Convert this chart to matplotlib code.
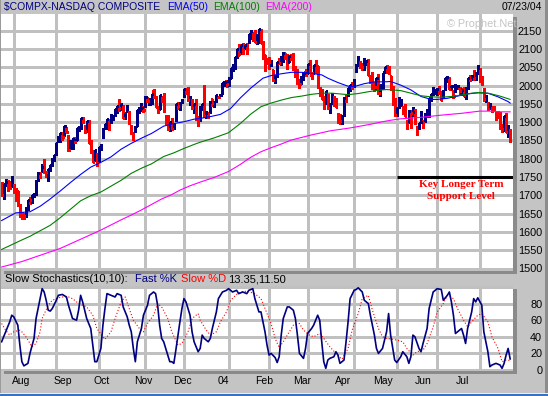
import numpy as np
import pandas as pd
import matplotlib
matplotlib.use("Agg")
import matplotlib.pyplot as plt
from matplotlib.patches import Rectangle

plt.rcParams['font.family'] = ['Liberation Sans', 'DejaVu Sans']

# ---------------- data ----------------
holidays = ['2003-09-01', '2003-11-27', '2003-12-25', '2004-01-01', '2004-01-19',
            '2004-02-16', '2004-04-09', '2004-05-31', '2004-06-11', '2004-07-05']
dates = pd.bdate_range('2003-07-24', '2004-07-23')
dates = dates[~dates.isin(pd.to_datetime(holidays))]

opens = [
    1725, 1700, 1731, 1737, 1733, 1730,
    1728, 1712, 1711, 1668, 1650, 1650, 1647, 1665, 1689, 1688, 1700, 1705, 1745, 1755, 1774, 1790, 1763, 1757, 1770, 1787, 1798,
    1815, 1854, 1851, 1858, 1865, 1880, 1862, 1830, 1838, 1856, 1852, 1880, 1885, 1912, 1889, 1876, 1903, 1845, 1815, 1800, 1812,
    1795, 1830, 1860, 1884, 1883, 1905, 1906, 1912, 1920, 1930, 1960, 1937, 1945, 1920, 1932, 1925, 1880, 1870, 1877, 1890, 1928, 1950, 1940,
    1943, 1966, 1950, 1962, 1986, 1968, 1938, 1937, 1964, 1972, 1915, 1915, 1885, 1890, 1885, 1905, 1953, 1950, 1955,
    1972, 1988, 1990, 1961, 1952, 1934, 1958, 1911, 1905, 1945, 1990, 1921, 1924, 1928, 1962, 1950, 1958, 1969, 1972, 1978, 2006, 2013,
    2011, 2021, 2044, 2051, 2090, 2084, 2092, 2114, 2105, 2090, 2122, 2150, 2144, 2150, 2134, 2120, 2150, 2120, 2082, 2068,
    2074, 2064, 2041, 2019, 2025, 2068, 2058, 2070, 2088, 2083, 2065, 2080, 2087, 2050, 2042, 1998, 2008, 2020, 2038,
    2035, 2060, 2030, 2035, 2040, 2052, 1991, 1984, 1952, 1956, 1974, 1947, 1953, 1967, 1960, 1918, 1920, 1899, 1920, 1960, 1975, 1990, 2004,
    2000, 2052, 2058, 2065, 2052, 2068, 2058, 2066, 2010, 2029, 2008, 1990, 2024, 1981, 1995, 2038, 2050, 2040, 2025, 1993, 1962,
    1925, 1945, 1952, 1940, 1935, 1900, 1901, 1930, 1922, 1925, 1885, 1884, 1910, 1895, 1905, 1927, 1920, 1962, 1980, 1983,
    1980, 1994, 1982, 1970, 1990, 2016, 2020, 1992, 1986, 1985, 1997, 1993, 1978, 1990, 1970, 1995, 2024, 2017, 2035, 2020, 2035,
    2045, 2020, 1990, 1960, 1948, 1940, 1940, 1940, 1915, 1925, 1925, 1885, 1882, 1923, 1868, 1878]
highs = [
    1737, 1732, 1745, 1742, 1738, 1753,
    1731, 1719, 1713, 1676, 1654, 1653, 1667, 1688, 1695, 1702, 1705, 1742, 1764, 1764, 1786, 1800, 1767, 1772, 1784, 1801, 1811,
    1842, 1863, 1869, 1873, 1889, 1886, 1865, 1850, 1856, 1860, 1884, 1890, 1912, 1913, 1893, 1902, 1905, 1852, 1823, 1825, 1815,
    1833, 1840, 1885, 1894, 1908, 1908, 1923, 1920, 1936, 1944, 1963, 1952, 1946, 1926, 1946, 1929, 1892, 1873, 1890, 1933, 1940, 1952, 1945,
    1970, 1969, 1965, 1977, 1990, 1972, 1943, 1975, 1972, 1979, 1920, 1920, 1901, 1911, 1896, 1950, 1956, 1955, 1962,
    1991, 1993, 1996, 1970, 1962, 1950, 1962, 1916, 1944, 1950, 2001, 1930, 1927, 1957, 1964, 1957, 1975, 1972, 1978, 2007, 2011, 2015,
    2022, 2048, 2058, 2078, 2101, 2113, 2112, 2117, 2112, 2115, 2141, 2153, 2146, 2152, 2140, 2154, 2155, 2122, 2084, 2075,
    2078, 2068, 2043, 2030, 2065, 2074, 2080, 2092, 2090, 2087, 2084, 2086, 2088, 2052, 2045, 2017, 2025, 2035, 2044,
    2058, 2069, 2037, 2056, 2071, 2054, 1995, 1990, 1970, 1986, 1976, 1952, 1980, 1970, 1965, 1925, 1923, 1920, 1968, 1975, 1994, 2001, 2009,
    2018, 2059, 2080, 2068, 2061, 2076, 2068, 2072, 2030, 2037, 2010, 2021, 2032, 2002, 2034, 2050, 2055, 2052, 2027, 2000, 1966,
    1940, 1968, 1962, 1945, 1950, 1906, 1932, 1933, 1940, 1936, 1890, 1898, 1930, 1905, 1925, 1936, 1965, 1978, 1995, 1990,
    1992, 1998, 1985, 1988, 2021, 2025, 2022, 2000, 1989, 2004, 2001, 1996, 1994, 1995, 1995, 2021, 2030, 2030, 2041, 2037, 2055,
    2048, 2025, 1992, 1975, 1955, 1953, 1944, 1945, 1930, 1930, 1927, 1896, 1918, 1926, 1893, 1881]
lows = [
    1699, 1690, 1726, 1712, 1716, 1722,
    1705, 1685, 1672, 1642, 1634, 1635, 1640, 1660, 1676, 1680, 1695, 1702, 1739, 1748, 1765, 1762, 1750, 1740, 1767, 1780, 1795,
    1810, 1845, 1846, 1852, 1863, 1872, 1820, 1826, 1827, 1844, 1850, 1877, 1880, 1897, 1869, 1873, 1843, 1815, 1790, 1795, 1780,
    1790, 1823, 1857, 1880, 1880, 1879, 1898, 1907, 1918, 1926, 1929, 1932, 1910, 1908, 1928, 1895, 1868, 1850, 1872, 1888, 1924, 1930, 1927,
    1940, 1955, 1946, 1950, 1967, 1940, 1925, 1935, 1955, 1927, 1895, 1879, 1875, 1880, 1880, 1903, 1937, 1933, 1952,
    1968, 1976, 1958, 1948, 1935, 1925, 1905, 1889, 1903, 1934, 1915, 1910, 1912, 1926, 1943, 1940, 1955, 1965, 1970, 1976, 2000, 1995,
    1999, 2020, 2040, 2045, 2075, 2083, 2086, 2086, 2101, 2085, 2116, 2128, 2122, 2118, 2113, 2116, 2115, 2073, 2040, 2060,
    2045, 2052, 2013, 2008, 2023, 2059, 2055, 2064, 2072, 2045, 2063, 2070, 2043, 2024, 2003, 1992, 2004, 2016, 2026,
    2033, 2038, 2017, 2033, 2035, 1994, 1970, 1962, 1935, 1950, 1937, 1925, 1950, 1945, 1940, 1898, 1895, 1896, 1918, 1955, 1972, 1986, 1990,
    1997, 2036, 2052, 2048, 2042, 2043, 2056, 2029, 2006, 1990, 1985, 1988, 1978, 1972, 1990, 2034, 2034, 2032, 1989, 1947, 1918,
    1918, 1938, 1944, 1922, 1916, 1880, 1899, 1885, 1918, 1895, 1865, 1880, 1897, 1885, 1900, 1915, 1914, 1958, 1974, 1978,
    1973, 1978, 1960, 1966, 1989, 2010, 1990, 1987, 1966, 1983, 1990, 1973, 1973, 1970, 1964, 1990, 2013, 2014, 2015, 2015, 2031,
    2010, 2002, 1958, 1955, 1934, 1936, 1928, 1930, 1907, 1911, 1882, 1874, 1876, 1873, 1858, 1845]
closes = [
    1702, 1731, 1735, 1731, 1721, 1735,
    1716, 1714, 1673, 1653, 1644, 1643, 1662, 1687, 1686, 1700, 1702, 1740, 1761, 1760, 1778, 1765, 1764, 1771, 1782, 1800, 1810,
    1842, 1853, 1869, 1858, 1889, 1873, 1824, 1846, 1855, 1846, 1883, 1887, 1910, 1906, 1875, 1902, 1844, 1818, 1792, 1825, 1787,
    1832, 1836, 1881, 1894, 1908, 1881, 1912, 1915, 1935, 1943, 1939, 1950, 1912, 1925, 1941, 1898, 1886, 1866, 1882, 1932, 1937, 1938, 1932,
    1968, 1958, 1959, 1976, 1971, 1942, 1931, 1973, 1967, 1930, 1910, 1882, 1900, 1882, 1894, 1949, 1943, 1953, 1960,
    1990, 1980, 1960, 1969, 1938, 1949, 1908, 1907, 1942, 1949, 1918, 1924, 1921, 1956, 1951, 1956, 1975, 1969, 1973, 2007, 2010, 2003,
    2007, 2047, 2057, 2078, 2100, 2087, 2112, 2097, 2111, 2109, 2140, 2148, 2143, 2119, 2124, 2154, 2116, 2078, 2068, 2066,
    2063, 2066, 2014, 2020, 2064, 2061, 2075, 2090, 2074, 2054, 2080, 2076, 2046, 2038, 2008, 2005, 2023, 2033, 2030,
    2058, 2040, 2033, 2055, 2048, 1995, 1982, 1964, 1944, 1985, 1939, 1943, 1977, 1962, 1941, 1910, 1902, 1910, 1967, 1960, 1993, 2001, 1994,
    2015, 2057, 2079, 2060, 2050, 2053, 2066, 2030, 2025, 2002, 1996, 2020, 1979, 2001, 2033, 2050, 2037, 2033, 1990, 1959, 1920,
    1939, 1951, 1957, 1938, 1918, 1896, 1931, 1926, 1927, 1904, 1877, 1898, 1899, 1897, 1912, 1923, 1965, 1976, 1985, 1987,
    1991, 1988, 1960, 1979, 2021, 2024, 1991, 2000, 1970, 1996, 1998, 1984, 1987, 1974, 1994, 2021, 2016, 2026, 2020, 2035, 2048,
    2016, 2007, 1963, 1966, 1935, 1946, 1937, 1932, 1915, 1913, 1883, 1882, 1917, 1874, 1889, 1849]

# moving averages (bar number, value)
ema50_bar = [0, 7, 14, 19, 24, 29, 34, 39, 44, 49, 54, 59, 64, 69, 74, 80, 85, 90, 95, 98, 103, 108, 113, 118,
             123, 129, 133, 138, 143, 148, 153, 158, 161, 166, 171, 174, 179, 184, 189, 192, 197, 202, 207,
             212, 215, 220, 225, 230, 235, 240, 245, 250, 251]
ema50_val = [1631, 1652, 1655, 1670, 1690, 1712, 1735, 1757, 1777, 1790, 1805, 1826, 1842, 1856, 1869, 1889,
             1896, 1901, 1908, 1910, 1915, 1921, 1937, 1967, 1993, 2020, 2027, 2032, 2036, 2036, 2033, 2029,
             2020, 2008, 1998, 1997, 2005, 2010, 2010, 2011, 2001, 1988, 1970, 1962, 1962, 1965, 1971, 1977,
             1980, 1979, 1969, 1956, 1952]
ema100_bar = [0, 10, 14, 19, 24, 29, 34, 39, 44, 49, 54, 59, 64, 69, 74, 80, 85, 90, 95, 98, 105, 112, 118,
              123, 128, 133, 138, 143, 148, 153, 158, 163, 167, 171, 176, 181, 186, 190, 197, 202, 207, 212,
              217, 222, 227, 232, 236, 241, 246, 251]
ema100_val = [1552, 1578, 1588, 1603, 1618, 1639, 1662, 1685, 1699, 1709, 1725, 1741, 1760, 1774, 1786, 1806,
              1816, 1828, 1839, 1845, 1857, 1871, 1897, 1922, 1942, 1952, 1960, 1967, 1971, 1976, 1979, 1979,
              1977, 1975, 1978, 1983, 1987, 1989, 1986, 1979, 1972, 1969, 1968, 1970, 1974, 1979, 1981, 1978,
              1971, 1962]
ema200_bar = [0, 10, 19, 29, 39, 49, 54, 59, 64, 69, 74, 79, 84, 88, 93, 98, 105, 112, 118, 123, 128, 133,
              138, 143, 148, 153, 158, 162, 167, 172, 177, 182, 187, 192, 197, 207, 217, 227, 236, 241, 246, 251]
ema200_val = [1504, 1519, 1536, 1555, 1580, 1605, 1619, 1633, 1646, 1660, 1675, 1690, 1702, 1714, 1726, 1736,
              1749, 1765, 1785, 1804, 1819, 1830, 1840, 1851, 1858, 1865, 1871, 1876, 1880, 1884, 1889, 1894,
              1900, 1905, 1909, 1913, 1919, 1924, 1930, 1930, 1928, 1928]

# slow stochastics (bar number, value)
k_bar = [0, 2, 4, 5, 6, 8, 9, 10, 11, 13, 14, 16, 17, 19, 20, 21, 22, 23, 24, 25, 27, 28, 30, 32, 33, 35, 37,
         38, 39, 40, 42, 44, 45, 46, 47, 49, 50, 51, 52, 54, 56, 57, 59, 60, 62, 63, 64, 65, 66, 67, 69, 70,
         72, 73, 75, 76, 77, 78, 79, 80, 81, 83, 84, 85, 86, 88, 89, 90, 91, 93, 94, 95, 97, 98, 99, 100, 102,
         103, 104, 106, 107, 109, 111, 112, 114, 116, 117, 119, 121, 122, 124, 125, 127, 128, 130, 131, 132,
         133, 135, 136, 137, 138, 139, 141, 142, 144, 145, 146, 147, 149, 150, 151, 153, 154, 156, 157, 158,
         159, 160, 161, 162, 164, 165, 166, 167, 169, 170, 171, 172, 174, 175, 176, 178, 179, 181, 182, 184,
         185, 186, 188, 190, 191, 192, 194, 195, 197, 198, 200, 201, 202, 203, 204, 206, 207, 208, 210, 211,
         213, 215, 217, 218, 220, 221, 222, 223, 224, 225, 227, 228, 229, 230, 232, 233, 234, 235, 237, 238,
         240, 241, 242, 244, 246, 247, 248, 249, 250, 251]
k_val = [34, 46, 58, 66, 64, 54, 30, 10, 5, 8, 20, 38, 62, 86, 98, 94, 84, 72, 71, 74, 84, 90, 91, 88, 78, 62, 60,
         72, 90, 82, 62, 50, 30, 10, 10, 26, 54, 74, 92, 90, 88, 92, 90, 76, 64, 54, 46, 26, 10, 34, 50, 66,
         78, 90, 94, 92, 78, 54, 38, 34, 26, 10, 10, 8, 24, 58, 74, 86, 82, 66, 46, 34, 22, 26, 42, 38, 34,
         38, 50, 70, 86, 94, 96, 98, 94, 96, 92, 94, 92, 96, 98, 86, 70, 70, 46, 30, 18,
         20, 15, 9, 16, 42, 62, 76, 76, 72, 62, 42, 20, 14, 26, 44, 50, 54, 66, 60, 34,
         10, 2, 12, 14, 16, 22, 18, 8, 12, 34, 58, 86, 96, 97, 99, 94, 84, 80, 66, 42,
         26, 20, 26, 46, 68, 42, 12, 9, 16, 22, 16, 8, 16, 42, 40, 26, 22, 32, 50, 74,
         94, 98, 97, 84, 90, 94, 82, 66, 44, 46, 50, 42, 32, 50, 70, 86, 82, 87, 78, 46,
         22, 4, 6, 8, 6, 2, 8, 18, 26, 13.35]
d_bar = [0, 2, 4, 6, 9, 10, 12, 14, 15, 17, 19, 20, 23, 25, 28, 30, 33, 35, 37, 40, 42, 45, 47, 50, 51, 54,
         56, 59, 61, 63, 65, 68, 70, 72, 75, 77, 79, 82, 84, 87, 89, 92, 94, 97, 98, 101, 103, 106, 108, 111,
         113, 116, 118, 121, 125, 128, 130, 133, 135, 137, 139, 142, 144, 147, 149, 152, 154, 157, 159, 162,
         165, 168, 171, 173, 176, 178, 181, 183, 186, 188, 190, 193, 195, 198, 200, 203, 205, 208, 210, 213,
         215, 218, 220, 223, 225, 228, 230, 232, 235, 237, 240, 242, 245, 247, 249, 251]
d_val = [56, 48, 42, 46, 48, 46, 40, 32, 28, 32, 46, 62, 78, 84, 87, 88, 88, 86, 82, 78, 76, 66, 50, 40, 37, 46,
         62, 82, 88, 74, 60, 50, 46, 56, 66, 80, 76, 62, 46, 30, 32, 46, 62, 68, 60, 48, 42, 46, 58, 70,
         84, 91, 94, 95, 92, 86, 74, 56, 38, 27, 34, 46, 54, 56, 48, 42, 40, 44, 38, 28,
         20, 13, 26, 48, 68, 86, 90, 72, 50, 40, 38, 37, 36, 34, 26, 18, 22, 24, 32, 52,
         70, 80, 90, 86, 74, 60, 52, 58, 66, 68, 58, 40, 26, 10, 12, 11.5]

price_ticks = list(range(1500, 2151, 50))
stoch_ticks = [0, 20, 40, 60, 80, 100]
stoch_tick_labels = ['0', '20', '40', '60', '80', '']
month_labels = ['Aug', 'Sep', 'Oct', 'Nov', 'Dec', '04', 'Feb', 'Mar', 'Apr', 'May', 'Jun', 'Jul']
support_level = 1750
support_from = '2004-05-03'
last_k, last_d = 13.35, 11.50

# ---------------- figure ----------------
W, H = 548, 396
BG = '#c4c4c4'
SHADOW = '#8a8a8a'
GRID = '#c0c0c0'
NAVY = '#000080'

fig = plt.figure(figsize=(W / 100, H / 100), dpi=100, facecolor=BG)


def px_axes(l, t, r, b):
    return fig.add_axes([l / W, 1 - b / H, (r - l) / W, (b - t) / H])


def px_rect(l, t, r, b, color):
    fig.patches.append(Rectangle((l / W, 1 - b / H), (r - l) / W, (b - t) / H,
                                 transform=fig.transFigure, facecolor=color,
                                 edgecolor='none', zorder=0))


def px_text(x, y, s, **kw):
    fig.text(x / W, 1 - y / H, s, va='center', **kw)


# panel shadows and window borders
px_rect(513, 17, 516.5, 274, SHADOW)
px_rect(4, 271, 516.5, 274, SHADOW)
px_rect(513, 289, 516.5, 373.5, SHADOW)
px_rect(4, 370.5, 516.5, 373.5, SHADOW)
px_rect(0, 0, 1, H, '#9a9a9a')
px_rect(545, 0, 548, 393, '#8c8c8c')
px_rect(0, 392.5, W, 393.5, '#e8eef8')
px_rect(0, 393.5, W, 396, '#3a6fc4')

ax1 = px_axes(1, 14, 513, 271)
ax2 = px_axes(1, 286, 513, 370.5)

x = np.arange(len(closes))
n = len(closes)
assert len(dates) == n == len(opens) == len(highs) == len(lows)
XL = (-0.3, 252.4)

# month start positions
ser = pd.Series(np.arange(n), index=dates)
month_start = ser.groupby([dates.year, dates.month]).first().values[1:]
month_start_dates = [dates[i] for i in month_start]

for ax in (ax1, ax2):
    ax.set_facecolor('white')
    for s in ax.spines.values():
        s.set_visible(False)
    ax.set_xlim(*XL)
    ax.set_xticks(month_start)
    ax.xaxis.grid(True, color=GRID, lw=0.75, antialiased=False)
    ax.yaxis.grid(True, color=GRID, lw=0.75, antialiased=False)
    ax.set_axisbelow(True)
    ax.yaxis.tick_right()
    ax.tick_params(axis='x', which='major', length=0, labelbottom=False)

# ---- price panel ----
cl = np.array(closes)
prev = np.concatenate([[cl[0] + 1], cl[:-1]])
cols = np.where(cl >= prev, NAVY, '#ff0000')
ax1.vlines(x, lows, highs, colors=cols, lw=0.85, antialiased=False, zorder=3)
ax1.hlines(opens, x - 0.55, x, colors=cols, lw=0.85, antialiased=False, zorder=3)
ax1.hlines(closes, x, x + 0.55, colors=cols, lw=0.85, antialiased=False, zorder=3)
ax1.plot(ema50_bar, ema50_val, color='#0000ff', lw=0.8, zorder=4)
ax1.plot(ema100_bar, ema100_val, color='#008000', lw=0.8, zorder=4)
ax1.plot(ema200_bar, ema200_val, color='#ff00ff', lw=0.8, zorder=4)

ax1.set_ylim(1750 - (271 - 177) / 0.366, 1750 + (177 - 14) / 0.366)
ax1.set_yticks(price_ticks)
ax1.tick_params(axis='y', length=0, pad=21, labelsize=7.8)
for lb in ax1.get_yticklabels():
    lb.set_horizontalalignment('right')

# support annotation
xs = int(ser[pd.Timestamp(support_from)])
ax1.plot([xs, XL[1] + 1.4], [support_level, support_level], color='black', lw=2.2,
         solid_capstyle='butt', clip_on=False, zorder=6)
ax1.text(0.898, 0.335, 'Key Longer Term', transform=ax1.transAxes, ha='center', va='center',
         color='#ff0000', fontsize=8, fontweight='bold', family='Liberation Serif')
ax1.text(0.898, 0.290, 'Support Level', transform=ax1.transAxes, ha='center', va='center',
         color='#ff0000', fontsize=8, fontweight='bold', family='Liberation Serif')

# ---- stochastics panel ----
ax2.plot(k_bar, k_val, color=NAVY, lw=1.2, zorder=4)
ax2.plot(d_bar, d_val, color='#ff0000', lw=0.8, linestyle=(0, (1.0, 1.8)), zorder=3)
ax2.set_ylim(-0.6, (370 - 286) / 0.83)
ax2.set_yticks(stoch_ticks)
ax2.set_yticklabels(stoch_tick_labels)
ax2.tick_params(axis='y', length=0, pad=21, labelsize=7.8)
for lb in ax2.get_yticklabels():
    lb.set_horizontalalignment('right')

# month labels (placed linearly in calendar time, as on the original chart)
aug1 = pd.Timestamp('2003-08-01')
label_pos = [ser[aug1] + 3.9 + 0.65 * (pd.Timestamp(d.year, d.month, 1) - aug1).days
             for d in month_start_dates]
ax2.set_xticks(label_pos, month_labels, minor=True)
ax2.tick_params(axis='x', which='minor', length=0, pad=4, labelsize=7.5)

# ---- header texts ----
px_text(4, 7, '$COMPX-NASDAQ COMPOSITE', color=NAVY, fontsize=7.5)
px_text(167, 7, 'EMA(50)', color='#0000ff', fontsize=7.5)
px_text(213, 7, 'EMA(100)', color='#008000', fontsize=7.5)
px_text(265, 7, 'EMA(200)', color='#ff00ff', fontsize=7.5)
px_text(542, 7, dates[-1].strftime('%m/%d/%y'), color='black', fontsize=7.5, ha='right')
px_text(447, 24, '\u00a9 Prophet.Net', color='#c4c4c4', fontsize=7.8)

px_text(5, 279.5, 'Slow Stochastics(10,10):', color='black', fontsize=8)
px_text(135, 279.5, 'Fast %K', color=NAVY, fontsize=8)
px_text(181, 279.5, 'Slow %D', color='#ff0000', fontsize=8)
px_text(228, 279.5, f'{last_k:.2f},{last_d:.2f}', color='black', fontsize=8)

fig.savefig('out.png', dpi=100, facecolor=BG)
